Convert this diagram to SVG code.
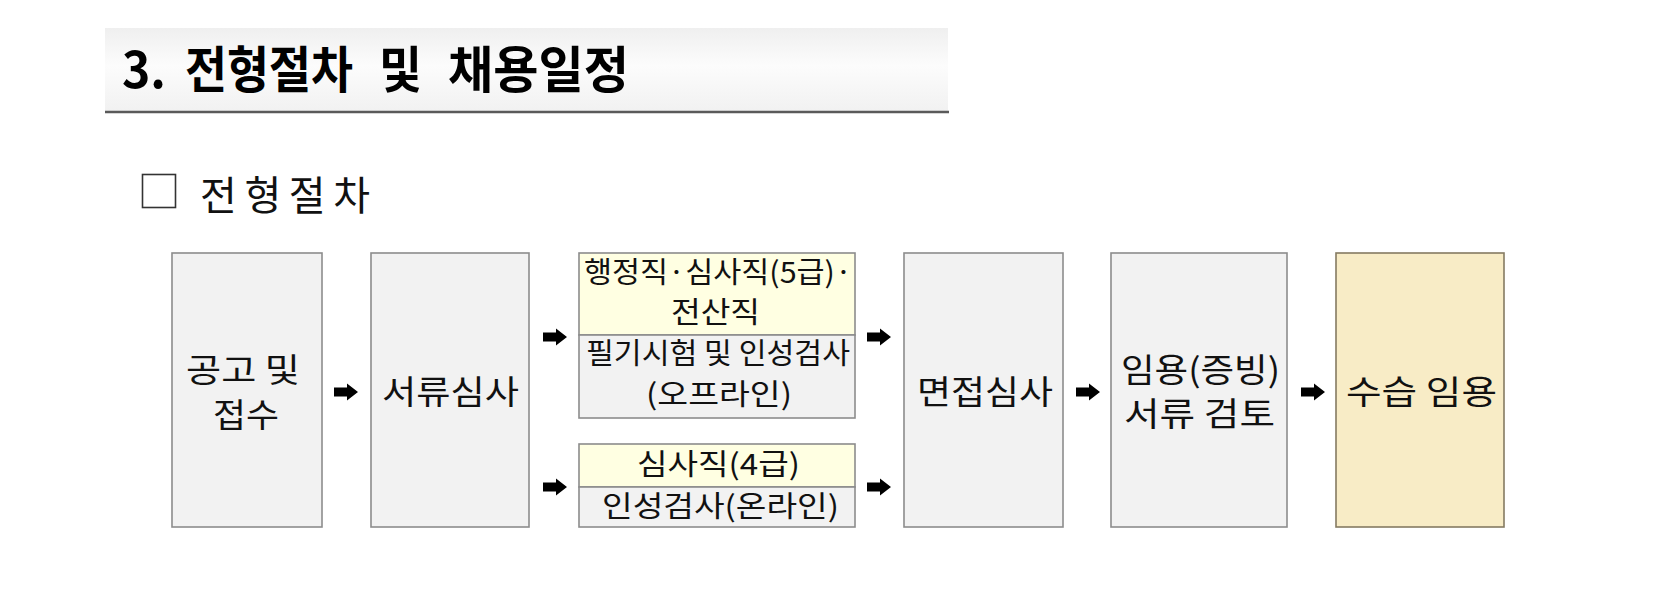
<svg xmlns="http://www.w3.org/2000/svg" xmlns:xlink="http://www.w3.org/1999/xlink" width="1666" height="609" viewBox="0 0 1666 609">
<defs>
<linearGradient id="band" x1="0" y1="0" x2="0" y2="1">
<stop offset="0" stop-color="#efefef"/>
<stop offset="0.45" stop-color="#fcfcfc"/>
<stop offset="1" stop-color="#f1f1f1"/>
</linearGradient>
<path id="arr" d="M0,-4.5 H13 V-8.5 L24,0 L13,8.5 V4.5 H0 Z" fill="#000"/>
</defs>
<style>
.box{fill:#f2f2f2;stroke:#8c8c8c;stroke-width:1.6}
.yel{fill:#ffffe2;stroke:#8c8c8c;stroke-width:1.6}
.gold{fill:#f8ecc6;stroke:#857b62;stroke-width:1.6}
.t{font-family:"Noto Sans CJK KR","Noto Sans",sans-serif;font-size:33px;fill:#111}
.s{font-family:"Noto Sans CJK KR","Noto Sans",sans-serif;font-size:29px;fill:#111}
</style>
<rect width="1666" height="609" fill="#fff"/>
<g id="header">
<rect x="105" y="28" width="843" height="84" fill="url(#band)"/>
<line x1="105" y1="112" x2="949" y2="112" stroke="#5a5a5a" stroke-width="2.6"/>
<text font-family="'Noto Sans CJK KR','Noto Sans',sans-serif" font-size="50" font-weight="bold" fill="#000"><tspan x="122" y="88" textLength="44" lengthAdjust="spacingAndGlyphs">3.</tspan><tspan x="185" y="88" textLength="168" lengthAdjust="spacingAndGlyphs">전형절차</tspan><tspan x="379" y="88" textLength="43" lengthAdjust="spacingAndGlyphs">및</tspan><tspan x="448" y="88" textLength="181" lengthAdjust="spacingAndGlyphs">채용일정</tspan></text>
</g>
<g id="subheading">
<rect x="142.5" y="174.5" width="33" height="33" fill="none" stroke="#333" stroke-width="1.6"/>
<text x="200" y="210" font-family="'Noto Sans CJK KR','Noto Sans',sans-serif" font-size="40" fill="#111" textLength="170" lengthAdjust="spacing">전형절차</text>
</g>
<g id="connectors">
<use xlink:href="#arr" x="334" y="392"/>
<use xlink:href="#arr" x="543" y="337"/>
<use xlink:href="#arr" x="543" y="487"/>
<use xlink:href="#arr" x="867" y="337"/>
<use xlink:href="#arr" x="867" y="487"/>
<use xlink:href="#arr" x="1076" y="392"/>
<use xlink:href="#arr" x="1301" y="392"/>
</g>
<g id="n1">
<rect class="box" x="172" y="253" width="150" height="274"/>
<text class="t"><tspan x="186" y="382" textLength="114" lengthAdjust="spacingAndGlyphs">공고 및</tspan><tspan x="213" y="427" textLength="66" lengthAdjust="spacingAndGlyphs">접수</tspan></text>
</g>
<g id="n2">
<rect class="box" x="371" y="253" width="158" height="274"/>
<text class="t" x="382" y="404" textLength="137" lengthAdjust="spacingAndGlyphs">서류심사</text>
</g>
<g id="n3">
<rect class="yel" x="579" y="253" width="276" height="82"/>
<rect class="box" x="579" y="335" width="276" height="83"/>
<text class="s"><tspan x="584" y="283" textLength="268" lengthAdjust="spacingAndGlyphs">행정직·심사직(5급)·</tspan><tspan x="671" y="323" textLength="89" lengthAdjust="spacingAndGlyphs">전산직</tspan></text>
<text class="s"><tspan x="586" y="364" textLength="264" lengthAdjust="spacingAndGlyphs">필기시험 및 인성검사</tspan><tspan x="646" y="405" textLength="146" lengthAdjust="spacingAndGlyphs">(오프라인)</tspan></text>
</g>
<g id="n4">
<rect class="yel" x="579" y="444" width="276" height="43"/>
<rect class="box" x="579" y="487" width="276" height="40"/>
<text class="s" x="637" y="475" textLength="163" lengthAdjust="spacingAndGlyphs">심사직(4급)</text>
<text class="s" x="602" y="517" textLength="237" lengthAdjust="spacingAndGlyphs">인성검사(온라인)</text>
</g>
<g id="n5">
<rect class="box" x="904" y="253" width="159" height="274"/>
<text class="t" x="917" y="404" textLength="136" lengthAdjust="spacingAndGlyphs">면접심사</text>
</g>
<g id="n6">
<rect class="box" x="1111" y="253" width="176" height="274"/>
<text class="t"><tspan x="1121" y="382" textLength="159" lengthAdjust="spacingAndGlyphs">임용(증빙)</tspan><tspan x="1124" y="426" textLength="151" lengthAdjust="spacingAndGlyphs">서류 검토</tspan></text>
</g>
<g id="n7">
<rect class="gold" x="1336" y="253" width="168" height="274"/>
<text class="t" x="1346" y="404" textLength="151" lengthAdjust="spacingAndGlyphs">수습 임용</text>
</g>
</svg>
